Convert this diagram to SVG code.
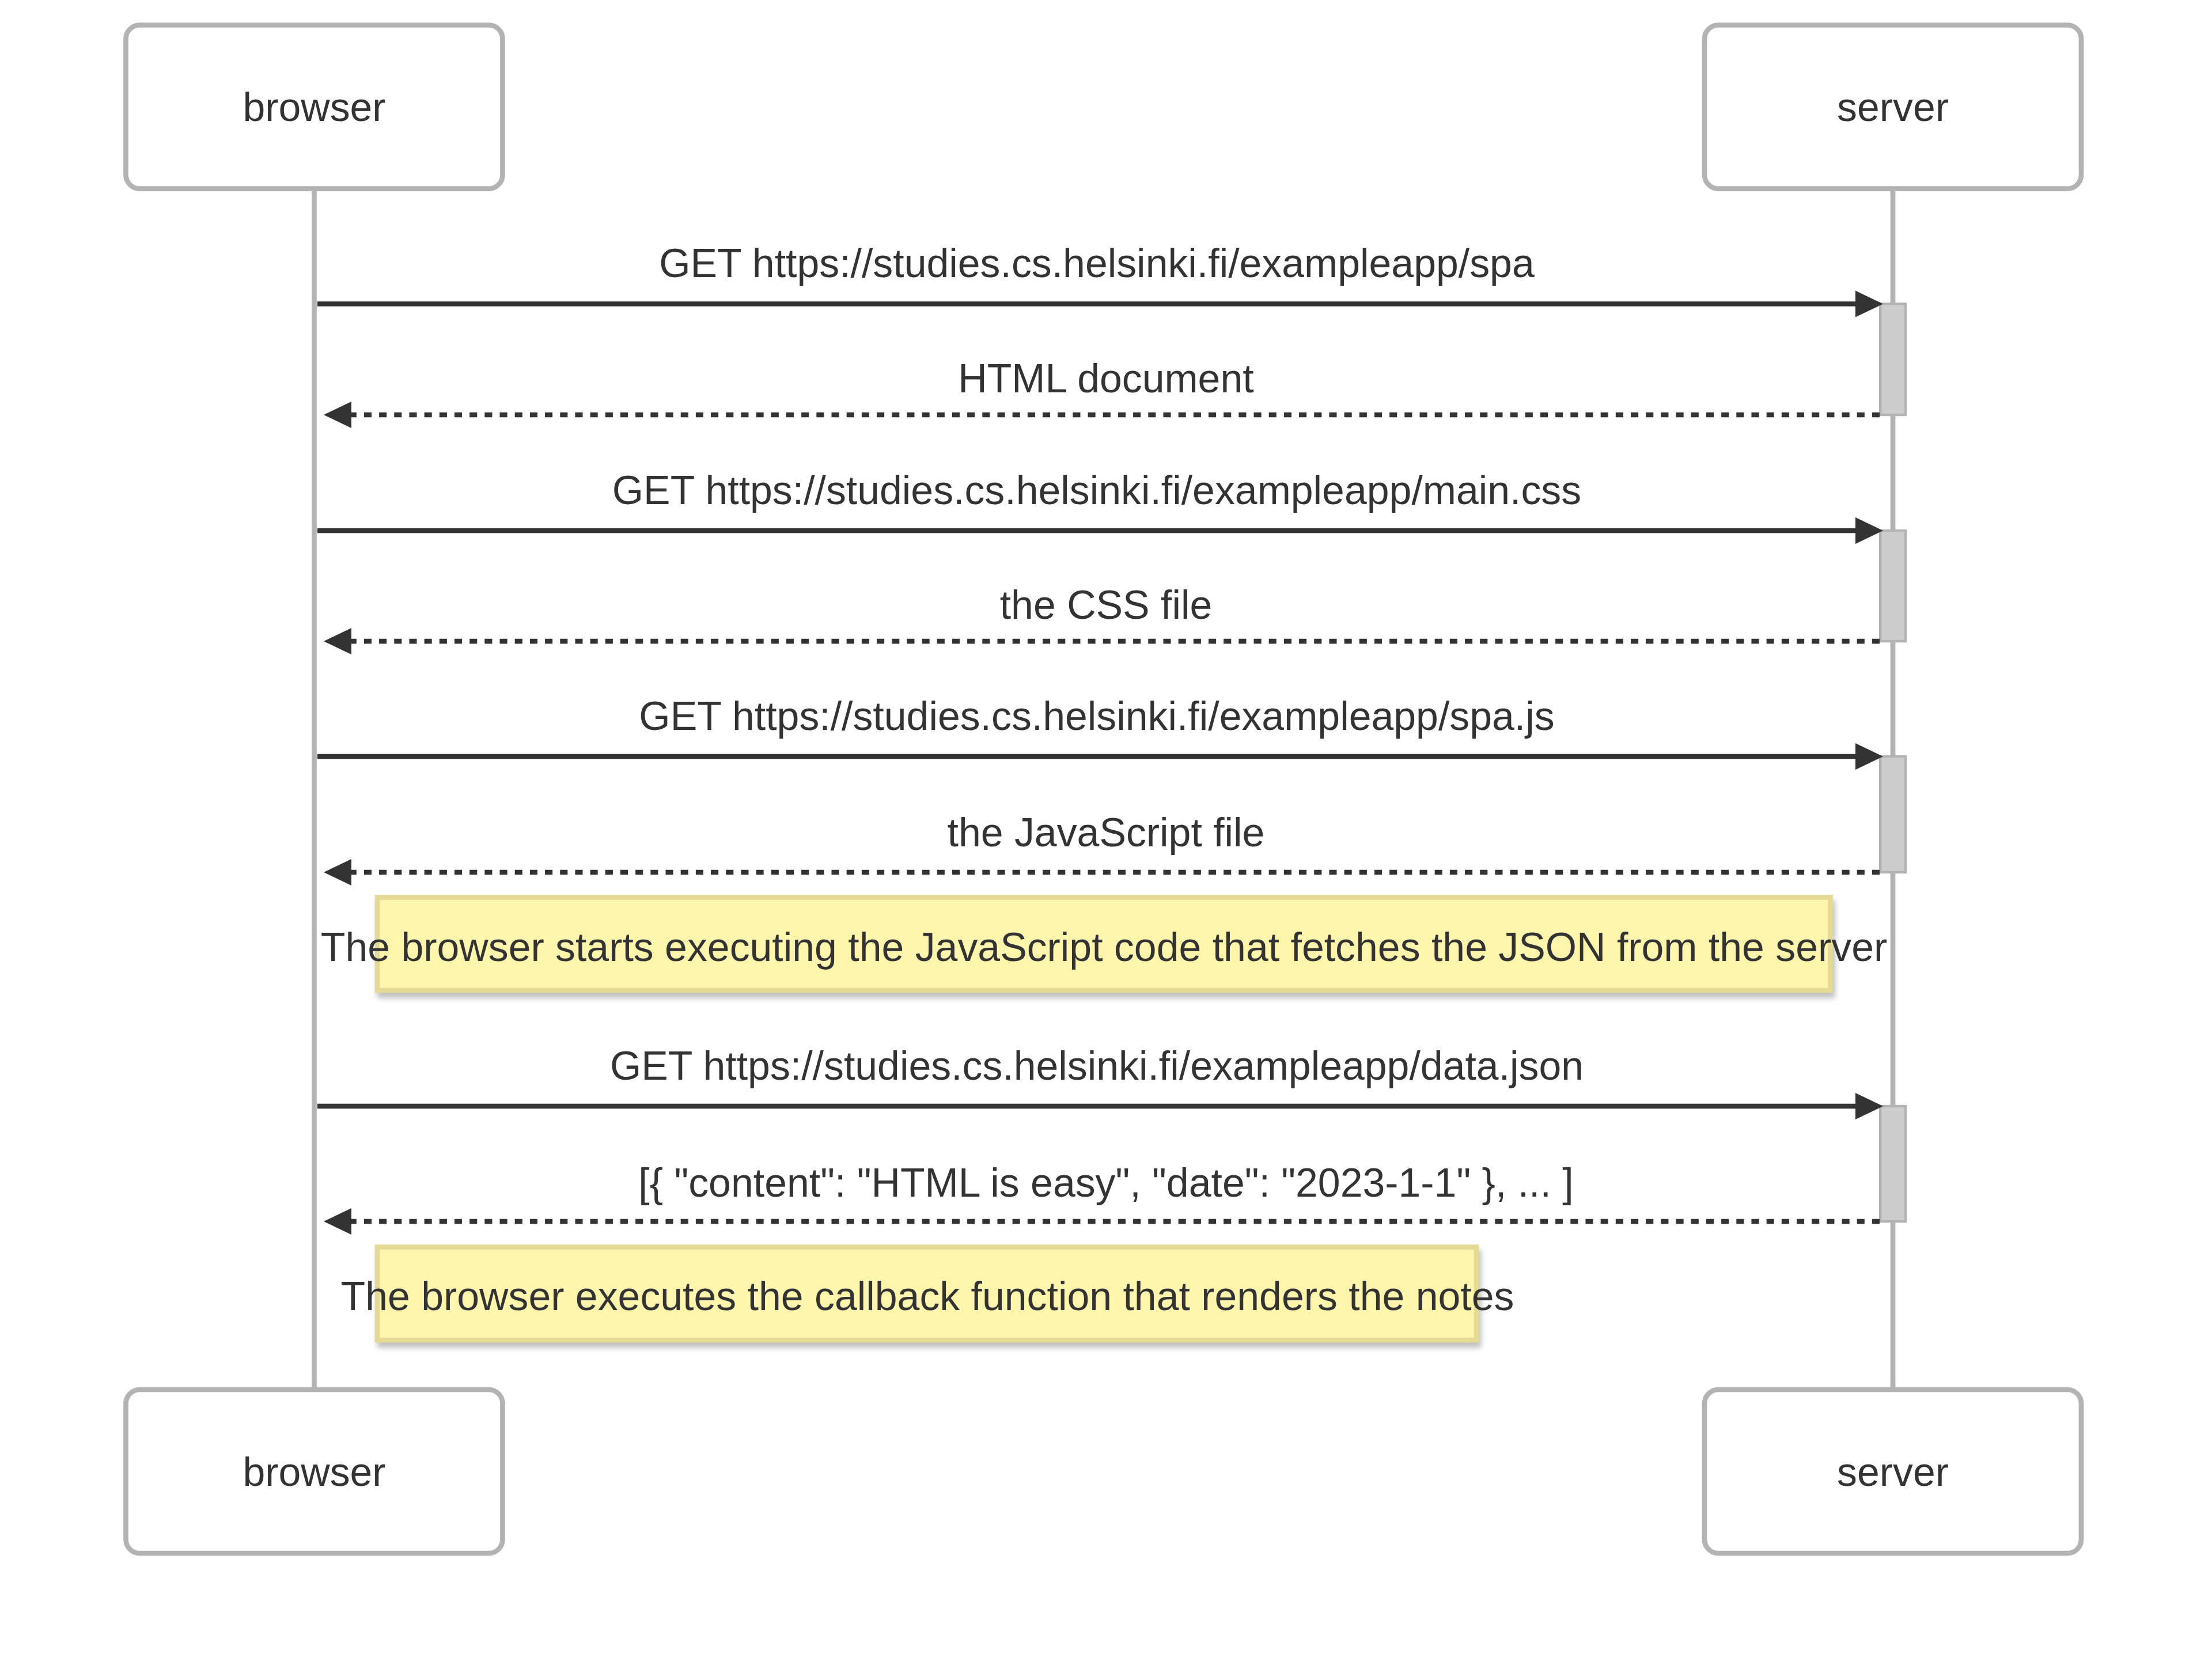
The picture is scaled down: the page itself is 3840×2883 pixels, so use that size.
<svg xmlns="http://www.w3.org/2000/svg" width="3840" height="2883" viewBox="0 0 3840 2883">
  <style>
    text { font-family: "Liberation Sans", Arial, Helvetica, sans-serif; font-size: 69.8px; fill: #333333; }
    .actor { fill: #ffffff; stroke: #b3b3b3; stroke-width: 8.7; }
    .actor-label { text-anchor: middle; }
    .lifeline { stroke: #b3b3b3; stroke-width: 8.7; fill: none; }
    .activation { fill: #cccccc; stroke: #b3b3b3; stroke-width: 4.4; }
    .msg { stroke: #333333; stroke-width: 8.7; fill: none; marker-end: url(#arrowhead); }
    .reply { stroke-dasharray: 13.09 13.09; }
    .msg-label { text-anchor: middle; }
    .note { fill: #fff5ad; stroke: #e4da95; stroke-width: 8.7; filter: url(#noteShadow); }
    .note-label { text-anchor: middle; }
  </style>
  <defs>
    <marker id="arrowhead" markerUnits="userSpaceOnUse" markerWidth="48" markerHeight="46" refX="39" refY="23" orient="auto" overflow="visible">
      <path d="M 0 0 L 48 23 L 0 46 z" fill="#333333"/>
    </marker>
    <filter id="noteShadow" x="-5%" y="-30%" width="110%" height="170%">
      <feDropShadow dx="4" dy="9" stdDeviation="5" flood-color="#b9b9b9" flood-opacity="0.9"/>
    </filter>
  </defs>

  <rect width="3840" height="2883" fill="#ffffff"/>

  <!-- lifelines -->
  <g id="lifelines">
    <line class="lifeline" x1="545.5" y1="327" x2="545.5" y2="2412"/>
    <line class="lifeline" x1="3286" y1="327" x2="3286" y2="2412"/>
  </g>

  <!-- participants, top row -->
  <g id="actor-browser-top">
    <rect class="actor" x="218.5" y="43.5" width="654" height="284" rx="24" ry="24"/>
    <text class="actor-label" x="545.5" y="210">browser</text>
  </g>
  <g id="actor-server-top">
    <rect class="actor" x="2959" y="43.5" width="654" height="284" rx="24" ry="24"/>
    <text class="actor-label" x="3286" y="210">server</text>
  </g>

  <!-- activation bars on the server lifeline -->
  <g id="activations">
    <rect class="activation" x="3264.2" y="527.5" width="43.6" height="192.5"/>
    <rect class="activation" x="3264.2" y="921" width="43.6" height="192"/>
    <rect class="activation" x="3264.2" y="1313" width="43.6" height="201"/>
    <rect class="activation" x="3264.2" y="1920" width="43.6" height="200"/>
  </g>

  <!-- messages -->
  <g id="connectors">
    <g id="msg-1">
      <line class="msg" x1="551" y1="527.5" x2="3260" y2="527.5"/>
      <text class="msg-label" x="1904" y="481">GET https://studies.cs.helsinki.fi/exampleapp/spa</text>
    </g>
    <g id="msg-2">
      <line class="msg reply" x1="3263" y1="720" x2="571" y2="720"/>
      <text class="msg-label" x="1920" y="681">HTML document</text>
    </g>
    <g id="msg-3">
      <line class="msg" x1="551" y1="921" x2="3260" y2="921"/>
      <text class="msg-label" x="1904" y="874.5">GET https://studies.cs.helsinki.fi/exampleapp/main.css</text>
    </g>
    <g id="msg-4">
      <line class="msg reply" x1="3263" y1="1113" x2="571" y2="1113"/>
      <text class="msg-label" x="1920" y="1074">the CSS file</text>
    </g>
    <g id="msg-5">
      <line class="msg" x1="551" y1="1313" x2="3260" y2="1313"/>
      <text class="msg-label" x="1904" y="1266.5">GET https://studies.cs.helsinki.fi/exampleapp/spa.js</text>
    </g>
    <g id="msg-6">
      <line class="msg reply" x1="3263" y1="1514" x2="571" y2="1514"/>
      <text class="msg-label" x="1920" y="1469">the JavaScript file</text>
    </g>
    <g id="msg-7">
      <line class="msg" x1="551" y1="1920" x2="3260" y2="1920"/>
      <text class="msg-label" x="1904" y="1873.5">GET https://studies.cs.helsinki.fi/exampleapp/data.json</text>
    </g>
    <g id="msg-8">
      <line class="msg reply" x1="3263" y1="2120" x2="571" y2="2120"/>
      <text class="msg-label" x="1920" y="2077">[{ "content": "HTML is easy", "date": "2023-1-1" }, ... ]</text>
    </g>
  </g>

  <!-- notes -->
  <g id="note-1">
    <rect class="note" x="655" y="1557.5" width="2522.5" height="161.5"/>
    <text class="note-label" x="1916.5" y="1668">The browser starts executing the JavaScript code that fetches the JSON from the server</text>
  </g>
  <g id="note-2">
    <rect class="note" x="655" y="2164.5" width="1908" height="161.5"/>
    <text class="note-label" x="1610" y="2274">The browser executes the callback function that renders the notes</text>
  </g>

  <!-- participants, bottom row -->
  <g id="actor-browser-bottom">
    <rect class="actor" x="218.5" y="2412" width="654" height="284" rx="24" ry="24"/>
    <text class="actor-label" x="545.5" y="2579">browser</text>
  </g>
  <g id="actor-server-bottom">
    <rect class="actor" x="2959" y="2412" width="654" height="284" rx="24" ry="24"/>
    <text class="actor-label" x="3286" y="2579">server</text>
  </g>
</svg>
